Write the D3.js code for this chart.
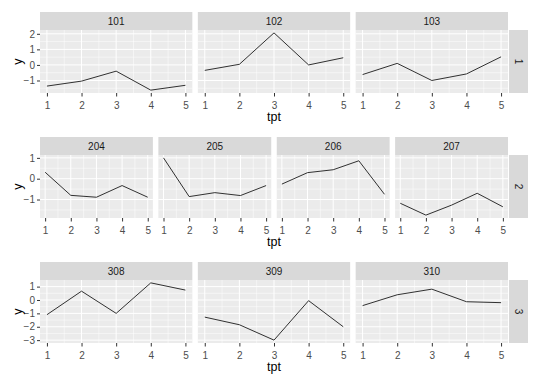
<!DOCTYPE html>
<html>
<head>
<meta charset="utf-8">
<script src="https://cdn.jsdelivr.net/npm/d3@7"></script>
<style>
body { margin: 0; background: #fff; }
</style>
</head>
<body>
<svg width="540" height="386" font-family="Liberation Sans, Arial, sans-serif"></svg>
<script>
// time points on the x axis
var tpt = [1, 2, 3, 4, 5];

// facet ids, one array per group (row)
var group1 = ["101", "102", "103"];
var group2 = ["204", "205", "206", "207"];
var group3 = ["308", "309", "310"];
var groupLabels = ["1", "2", "3"];

// y values per subject, read at tpt 1..5
var y101 = [-1.36, -1.04, -0.40, -1.62, -1.31];
var y102 = [-0.35, 0.04, 2.06, 0.00, 0.46];
var y103 = [-0.62, 0.10, -1.00, -0.58, 0.52];
var y204 = [0.31, -0.80, -0.89, -0.33, -0.89];
var y205 = [1.00, -0.86, -0.67, -0.81, -0.33];
var y206 = [-0.26, 0.29, 0.43, 0.86, -0.75];
var y207 = [-1.18, -1.75, -1.27, -0.70, -1.35];
var y308 = [-1.10, 0.66, -1.00, 1.28, 0.74];
var y309 = [-1.28, -1.85, -3.00, -0.05, -2.00];
var y310 = [-0.42, 0.39, 0.81, -0.13, -0.20];

// y tick labels per row
var yTicks1 = [-1, 0, 1, 2];
var yTicks2 = [-1, 0, 1];
var yTicks3 = [-3, -2, -1, 0, 1];

var series = {
	"101": y101, "102": y102, "103": y103,
	"204": y204, "205": y205, "206": y206, "207": y207,
	"308": y308, "309": y309, "310": y310
};

var svg = d3.select("svg"),
	font = "Liberation Sans, Arial, sans-serif",
	left = 40,
	right = 508,
	panelH = 63,
	stripH = 18,
	gap = 5.5,
	rowTops = [30, 155, 280];

var rows = [
	{ ids: group1, ticks: yTicks1, label: groupLabels[0], top: rowTops[0] },
	{ ids: group2, ticks: yTicks2, label: groupLabels[1], top: rowTops[1] },
	{ ids: group3, ticks: yTicks3, label: groupLabels[2], top: rowTops[2] }
];

function mids(arr) {
	var out = [];
	for (var i = 0; i < arr.length - 1; i++) out.push((arr[i] + arr[i + 1]) / 2);
	return out;
}

function styleAxis(a) {
	a.attr("font-family", font).attr("font-size", 10);
	a.select(".domain").remove();
	a.selectAll("line").attr("stroke", "#333");
	a.selectAll("text").attr("fill", "#4D4D4D");
}

rows.forEach(function (row) {
	var n = row.ids.length,
		pw = (right - left - (n - 1) * gap) / n;

	// shared y scale across the row, ggplot style 5% expansion
	var all = [];
	row.ids.forEach(function (id) { all = all.concat(series[id]); });
	var ext = d3.extent(all),
		pad = (ext[1] - ext[0]) * 0.05;
	var y = d3.scaleLinear()
		.domain([ext[0] - pad, ext[1] + pad])
		.range([panelH, 0]);

	var yMinor = mids([row.ticks[0] - 1].concat(row.ticks, [row.ticks[row.ticks.length - 1] + 1]))
		.filter(function (v) { return v > y.domain()[0] && v < y.domain()[1]; });

	row.ids.forEach(function (id, i) {
		var x0 = left + i * (pw + gap);
		var x = d3.scaleLinear()
			.domain([0.8, 5.2])
			.range([0, pw]);

		var g = svg.append("g")
			.attr("transform", "translate(" + x0 + "," + row.top + ")");

		g.append("rect")
			.attr("width", pw)
			.attr("height", panelH)
			.attr("fill", "#EBEBEB");

		// minor grid
		g.selectAll(".xminor")
			.data(mids(tpt))
			.enter().append("line")
			.attr("x1", function (d) { return x(d); })
			.attr("x2", function (d) { return x(d); })
			.attr("y1", 0)
			.attr("y2", panelH)
			.attr("stroke", "#fff")
			.attr("stroke-width", 0.5);
		g.selectAll(".yminor")
			.data(yMinor)
			.enter().append("line")
			.attr("x1", 0)
			.attr("x2", pw)
			.attr("y1", function (d) { return y(d); })
			.attr("y2", function (d) { return y(d); })
			.attr("stroke", "#fff")
			.attr("stroke-width", 0.5);

		// major grid
		g.selectAll(".xmajor")
			.data(tpt)
			.enter().append("line")
			.attr("x1", function (d) { return x(d); })
			.attr("x2", function (d) { return x(d); })
			.attr("y1", 0)
			.attr("y2", panelH)
			.attr("stroke", "#fff")
			.attr("stroke-width", 1);
		g.selectAll(".ymajor")
			.data(row.ticks)
			.enter().append("line")
			.attr("x1", 0)
			.attr("x2", pw)
			.attr("y1", function (d) { return y(d); })
			.attr("y2", function (d) { return y(d); })
			.attr("stroke", "#fff")
			.attr("stroke-width", 1);

		// the series line
		g.append("path")
			.datum(series[id])
			.attr("fill", "none")
			.attr("stroke", "#000")
			.attr("stroke-width", 0.8)
			.attr("d", d3.line()
				.x(function (d, j) { return x(tpt[j]); })
				.y(function (d) { return y(d); }));

		// top strip
		g.append("rect")
			.attr("y", -stripH)
			.attr("width", pw)
			.attr("height", stripH)
			.attr("fill", "#D9D9D9");
		g.append("text")
			.attr("x", pw / 2)
			.attr("y", -stripH / 2)
			.attr("dy", "0.35em")
			.attr("text-anchor", "middle")
			.attr("font-size", 10)
			.attr("fill", "#1A1A1A")
			.text(id);

		// x axis
		g.append("g")
			.attr("transform", "translate(0," + panelH + ")")
			.call(d3.axisBottom(x).tickValues(tpt).tickFormat(d3.format("d")).tickSize(3.5).tickPadding(5))
			.call(styleAxis);

		if (i === 0) {
			g.append("g")
				.call(d3.axisLeft(y).tickValues(row.ticks).tickFormat(d3.format("d")).tickSize(3).tickPadding(2))
				.call(styleAxis);

			svg.append("text")
				.attr("transform", "translate(18," + (row.top + panelH / 2) + ") rotate(-90)")
				.attr("text-anchor", "middle")
				.attr("dy", "0.35em")
				.attr("font-size", 12.5)
				.attr("fill", "#000")
				.text("y");
		}
	});

	// right strip
	svg.append("rect")
		.attr("x", right + 1)
		.attr("y", row.top)
		.attr("width", 19)
		.attr("height", panelH)
		.attr("fill", "#D9D9D9");
	svg.append("text")
		.attr("transform", "translate(" + (right + 10.5) + "," + (row.top + panelH / 2) + ") rotate(90)")
		.attr("text-anchor", "middle")
		.attr("dy", "0.35em")
		.attr("font-size", 10)
		.attr("fill", "#1A1A1A")
		.text(row.label);

	// x axis title
	svg.append("text")
		.attr("x", (left + right) / 2)
		.attr("y", row.top + panelH + 28)
		.attr("text-anchor", "middle")
		.attr("font-size", 12.5)
		.attr("fill", "#000")
		.text("tpt");
});
</script>
</body>
</html>
